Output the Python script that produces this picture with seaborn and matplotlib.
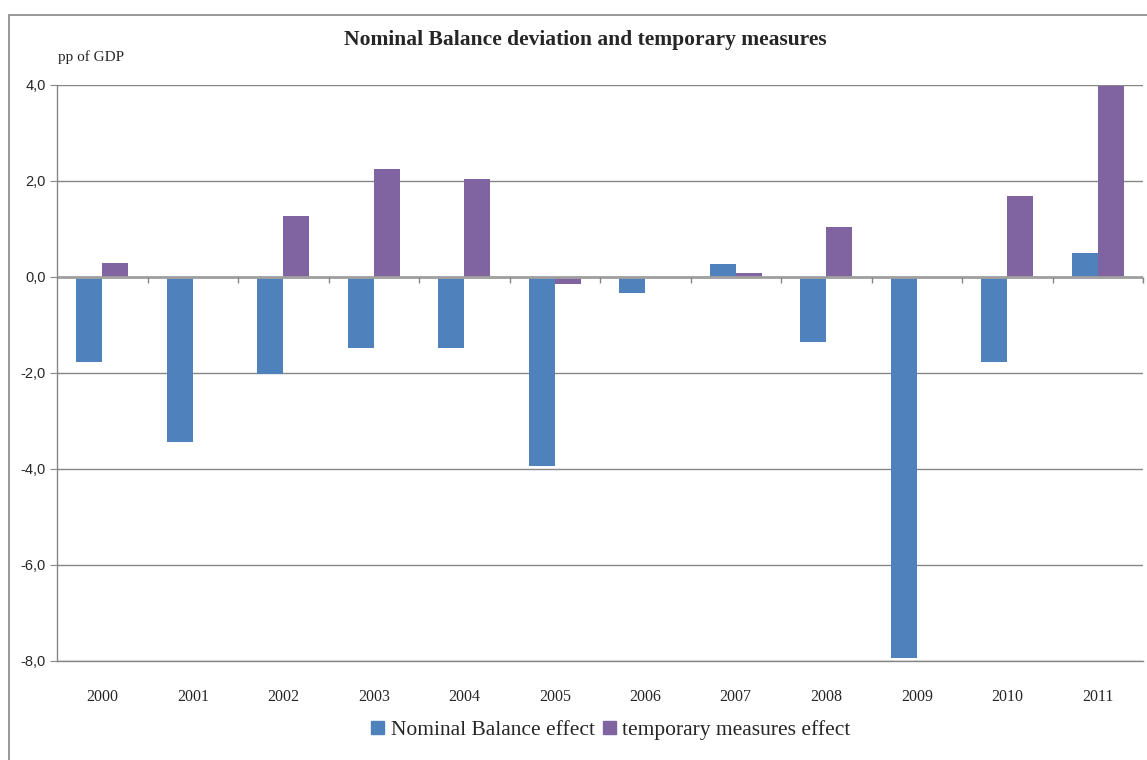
import numpy as np
import pandas as pd
import matplotlib
matplotlib.use("Agg")
import matplotlib.pyplot as plt
import matplotlib.patches as mpatches
import seaborn as sns

# data (pp of GDP)
years = ["2000", "2001", "2002", "2003", "2004", "2005",
         "2006", "2007", "2008", "2009", "2010", "2011"]
nominal_balance = [-1.78, -3.43, -2.02, -1.47, -1.47, -3.93,
                   -0.33, 0.28, -1.35, -7.94, -1.78, 0.49]
temporary_measures = [0.30, 0.0, 1.28, 2.25, 2.04, -0.14,
                      0.0, 0.09, 1.04, 0.0, 1.69, 3.97]
series_names = ["Nominal Balance effect", "temporary measures effect"]
yticks = [-8, -6, -4, -2, 0, 2, 4]

df = pd.DataFrame({
    "year": years * 2,
    "value": nominal_balance + temporary_measures,
    "series": [series_names[0]] * len(years) + [series_names[1]] * len(years),
})

sns.set_style("white")
serif = ["Liberation Serif", "DejaVu Serif"]
sans = ["Liberation Sans", "DejaVu Sans"]
colors = ["#4F81BD", "#8064A2"]

fig = plt.figure(figsize=(11.47, 7.6), dpi=100)
ax = fig.add_axes([57 / 1147, 1 - 661 / 760, (1143 - 57) / 1147, (661 - 85) / 760])

sns.barplot(data=df, x="year", y="value", hue="series",
            palette=colors, width=0.575, saturation=1,
            linewidth=0, edgecolor="none", ax=ax, legend=False)

ax.set_ylim(-8, 4)
ax.set_xlim(-0.5, len(years) - 0.5)
ax.set_yticks(yticks)
ax.set_yticklabels([f"{t:.1f}".replace(".", ",") for t in yticks],
                   family=sans, fontsize=10.5)
ax.set_xticks(range(len(years)))
ax.set_xticklabels(years, family=serif, fontsize=11.5)
ax.tick_params(axis="x", length=0, pad=20)
ax.tick_params(axis="y", length=5, color="#868686", direction="out", left=True, pad=3)
ax.set_xlabel("")
ax.set_ylabel("")

ax.grid(axis="y", color="#868686", linewidth=1)
ax.set_axisbelow(True)
for side in ["top", "right"]:
    ax.spines[side].set_visible(False)
for side in ["left", "bottom"]:
    ax.spines[side].set_color("#868686")
    ax.spines[side].set_linewidth(1)

# category axis at zero with boundary tick marks
ax.axhline(0, color="#A0A0A0", linewidth=2, zorder=1)
ax.vlines(np.arange(0.5, len(years)), -0.12, 0, color="#868686", linewidth=1)
ax.vlines([len(years) - 0.5], -0.12, 0, color="#868686", linewidth=1, clip_on=False)

fig.text(585 / 1147, 1 - 40 / 760, "Nominal Balance deviation and temporary measures",
         ha="center", va="center", family=serif, fontsize=15.5, fontweight="bold")
fig.text(58 / 1147, 1 - 57 / 760, "pp of GDP", ha="left", va="center",
         family=serif, fontsize=11)

handles = [mpatches.Patch(color=c, label=n) for c, n in zip(colors, series_names)]
fig.legend(handles=handles, loc="center", bbox_to_anchor=(611 / 1147, 1 - 730 / 760),
           ncol=2, frameon=False, prop={"family": serif, "size": 15.5},
           handlelength=0.6, handleheight=0.6, handletextpad=0.3, columnspacing=0.4)

# outer chart border
fig.add_artist(mpatches.Rectangle((9 / 1147, -0.05), 1.2, 1 - 15 / 760 + 0.05,
                                  transform=fig.transFigure, fill=False,
                                  edgecolor="#868686", linewidth=1.2))

fig.savefig("out.png", dpi=100)
